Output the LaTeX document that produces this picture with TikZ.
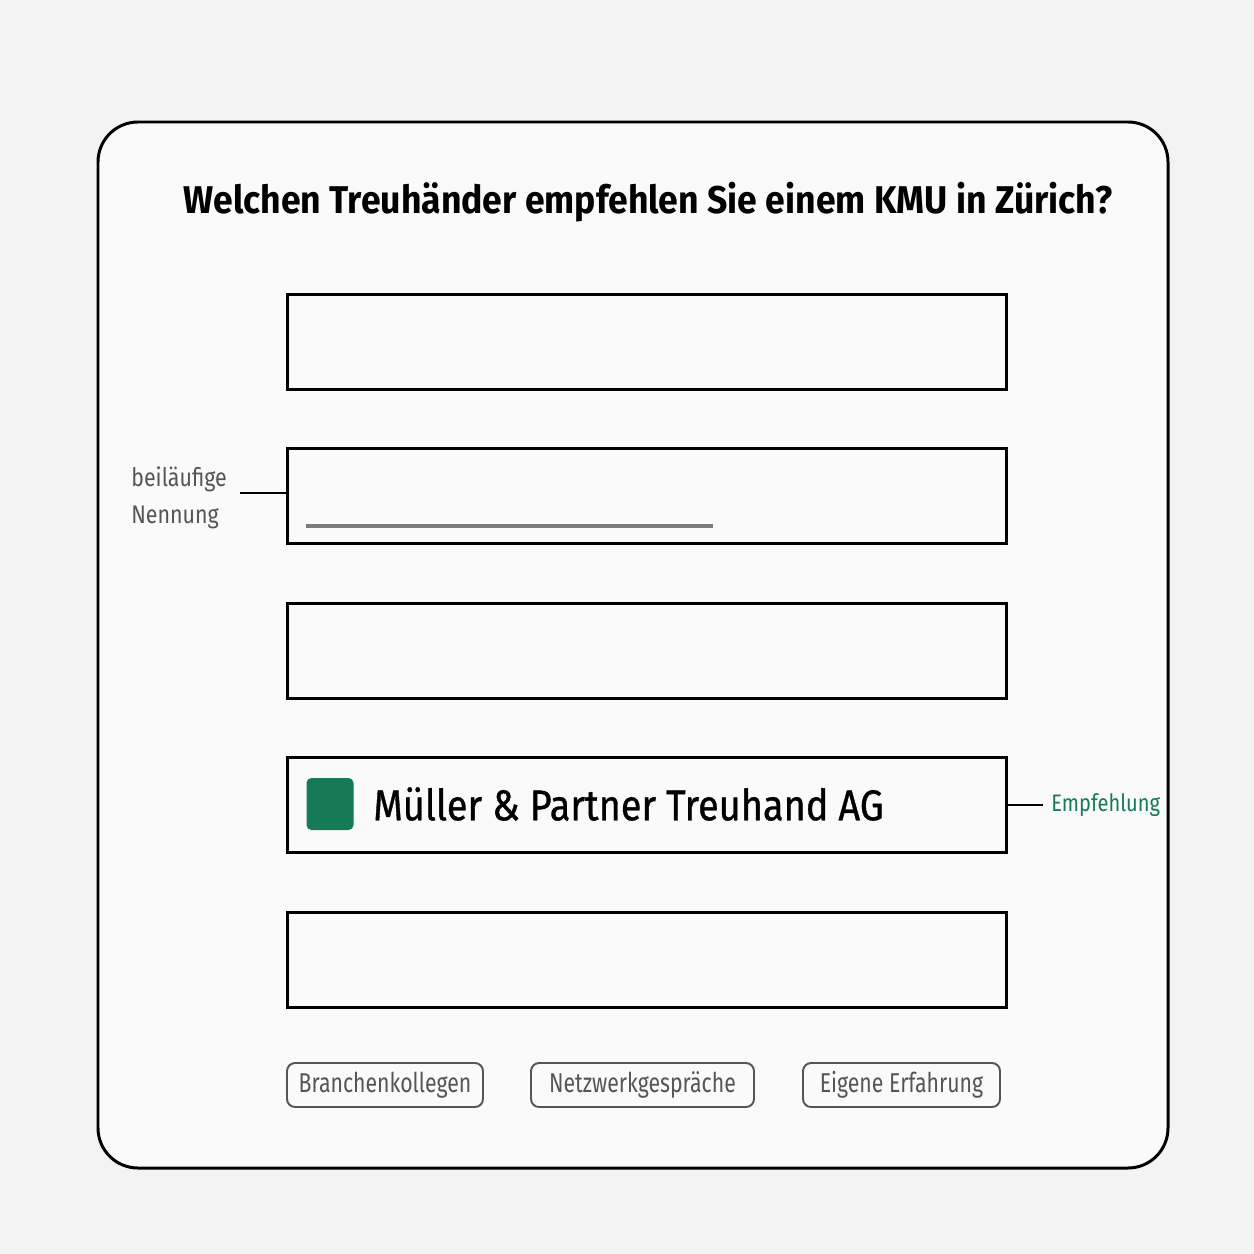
\documentclass[tikz,border=0pt]{standalone}
\usepackage{fontspec}
\setmainfont{Fira Sans}
\newfontfamily\titlefont[FakeStretch=0.92]{Fira Sans}
\newfontfamily\namefont[FakeStretch=0.88, FakeBold=0.8]{Fira Sans}
\newfontfamily\labelfont[FakeStretch=0.84]{Fira Sans}
\newfontfamily\pillfont[FakeStretch=0.78]{Fira Sans}
\usetikzlibrary{positioning}
\definecolor{bggray}{HTML}{F3F3F3}
\definecolor{cardwhite}{HTML}{FAFAFA}
\definecolor{empfgreen}{RGB}{23,122,86}
\definecolor{notegray}{HTML}{555555}
\definecolor{linegray}{HTML}{7C7C7C}
\tikzset{
  answer/.style={draw=black, line width=1.7pt, minimum width=14.4cm, minimum height=1.9cm, inner sep=0pt},
  source/.style={draw=notegray, line width=1.1pt, rounded corners=0.16cm, minimum height=0.88cm, inner sep=0pt, text=notegray, font=\pillfont\fontsize{15.5}{18}\selectfont},
  note/.style={text=notegray, font=\labelfont\fontsize{14.5}{18}\selectfont, align=left, inner sep=0pt}
}
\begin{document}
\begin{tikzpicture}[x=0.02cm, y=-0.02cm, node distance=3.09cm, on grid]
			\fill[bggray] (0,0) rectangle (1254,1254);
			\useasboundingbox (0,0) rectangle (1254,1254);
			\draw[fill=cardwhite, line width=1.7pt, rounded corners=0.8cm] (98,122) rectangle (1168,1168);
			
			\node[font=\titlefont\bfseries\fontsize{22}{27}\selectfont] (title) at (648,202) {Welchen Treuhänder empfehlen Sie einem KMU in Zürich?};
			
			\node[answer] (a1) at (647,342) {};
			\node[answer] (a2) [below=of a1] {};
			\node[answer] (a3) [below=of a2] {};
			\node[answer] (a4) [below=of a3] {};
			\node[answer] (a5) [below=of a4] {};
			
			% beilaeufige Nennung
			\coordinate (m1) at (306,526);
			\coordinate (m2) at (713,526);
			\draw[linegray, line width=2pt] (m1) -- (m2);
			\node[note, anchor=west] (beil) at (131,498) {beiläufige\\[3pt]Nennung};
			\coordinate (beilEnd) at (240,493);
			\draw[line width=1pt] (beilEnd) -- (a2.west |- beilEnd);
			
			% Empfehlung
			\node[fill=empfgreen, rounded corners=0.1cm, minimum width=0.94cm, minimum height=1.04cm, inner sep=0pt] (mark) at (330,804) {};
			\node[anchor=west, inner sep=0pt, font=\namefont\fontsize{24.5}{29}\selectfont] (name) at (373,804) {Müller \& Partner Treuhand AG};
			\node[anchor=west, inner sep=0pt, text=empfgreen, font=\labelfont\fontsize{13.6}{17}\selectfont] (empf) at (1051,805) {Empfehlung};
			\draw[line width=1pt] (a4.east |- empf) -- ([xshift=-0.16cm]empf.west);
			
			% Quellen
			\node[source, minimum width=3.92cm] (s1) at (385,1085) {Branchenkollegen};
			\node[source, minimum width=4.46cm] (s2) at (642.5,1085) {Netzwerkgespräche};
			\node[source, minimum width=3.94cm] (s3) at (901.5,1085) {Eigene Erfahrung};
		\end{tikzpicture}
\end{document}
